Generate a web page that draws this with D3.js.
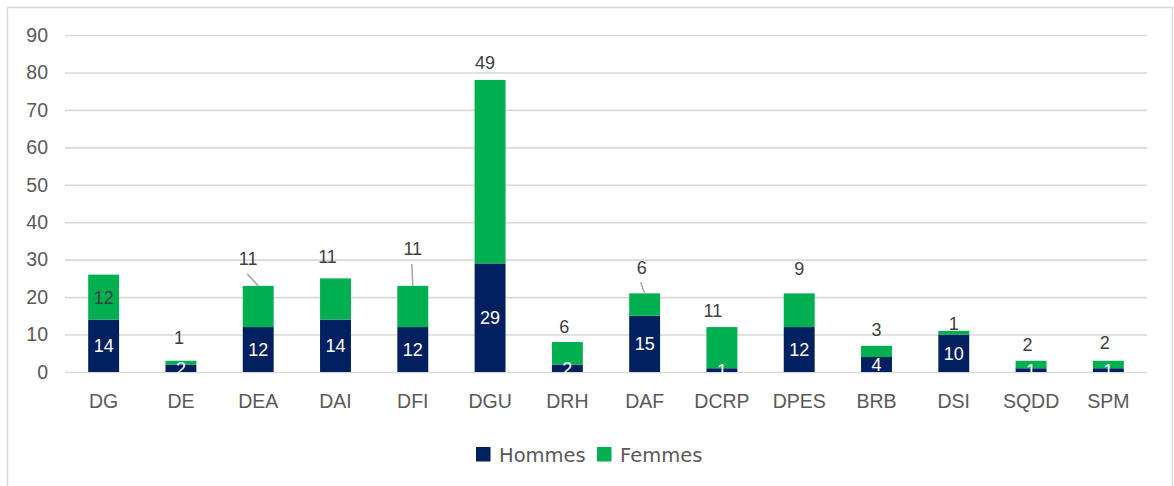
<!DOCTYPE html>
<html>
<head>
<meta charset="utf-8">
<script src="https://cdn.jsdelivr.net/npm/d3@7"></script>
<style>
  html, body { margin: 0; padding: 0; background: #fff; }
  svg { display: block; font-family: "Liberation Sans", Arial, sans-serif; }
</style>
</head>
<body>
<svg id="chart" width="1174" height="486"></svg>
<script>
const categories = ["DG","DE","DEA","DAI","DFI","DGU","DRH","DAF","DCRP","DPES","BRB","DSI","SQDD","SPM"];
const hommes = [14, 2, 12, 14, 12, 29, 2, 15, 1, 12, 4, 10, 1, 1];
const femmes = [12, 1, 11, 11, 11, 49, 6, 6, 11, 9, 3, 1, 2, 2];
const yTicks = [0, 10, 20, 30, 40, 50, 60, 70, 80, 90];
const seriesNames = ["Hommes", "Femmes"];

// layout-only config: where Excel had moved the "Femmes" labels (pixel nudges, null = inside bar)
const femLabelNudge = {
  DG: null,
  DE: [-2, -23], DEA: [-10, -27], DAI: [-8, -22], DFI: [0, -37], DGU: [-5, -17],
  DRH: [-3, -16], DAF: [-3, -26], DCRP: [-9, -17], DPES: [0, -25], BRB: [0, -16.5],
  DSI: [0, -7.5], SQDD: [-3.5, -16], SPM: [-3.5, -18.5]
};
const leaderFor = ["DEA", "DFI", "DAF"];

const colors = { Hommes: "#002060", Femmes: "#00B050" };
const svg = d3.select("#chart");

// outer border
svg.append("rect").attr("x", 7.5).attr("y", 7.5).attr("width", 1165).attr("height", 490)
  .attr("fill", "none").attr("stroke", "#d9d9d9").attr("stroke-width", 1.5);

const x0 = 65, x1 = 1147;
const x = d3.scaleBand().domain(categories).range([x0, x1]).paddingInner(0.6).paddingOuter(0.3);
const y = d3.scaleLinear().domain([0, 90]).range([372, 35]);

// gridlines + y tick labels
const yAxis = d3.axisLeft(y).tickValues(yTicks).tickSize(-(x1 - x0)).tickPadding(17);
const gy = svg.append("g").attr("transform", `translate(${x0},0)`).call(yAxis);
gy.select(".domain").remove();
gy.selectAll(".tick line").attr("stroke", "#d9d9d9").attr("stroke-width", 1.6);
gy.selectAll(".tick text").attr("fill", "#595959").style("font-size", "19.5px")
  .attr("font-family", "'Liberation Sans', Arial, sans-serif");

// x axis labels
const xAxis = d3.axisBottom(x).tickSize(0).tickPadding(0);
const gx = svg.append("g").attr("transform", "translate(0,372)").call(xAxis);
gx.select(".domain").remove();
gx.selectAll(".tick text").attr("fill", "#595959").style("font-size", "19.5px")
  .attr("font-family", "'Liberation Sans', Arial, sans-serif").attr("dy", null).attr("y", 35.5);

const data = categories.map((c, i) => ({ cat: c, h: hommes[i], f: femmes[i] }));
const stack = d3.stack().keys(["h", "f"])(data);

const bars = svg.append("g");
stack.forEach((layer, li) => {
  bars.selectAll(null).data(layer).enter().append("rect")
    .attr("x", d => x(d.data.cat))
    .attr("width", x.bandwidth())
    .attr("y", d => y(d[1]))
    .attr("height", d => y(d[0]) - y(d[1]))
    .attr("fill", colors[seriesNames[li]]);
});

// Hommes labels (white, centered)
svg.append("g").selectAll("text").data(data).enter().append("text")
  .attr("x", d => x(d.cat) + x.bandwidth() / 2)
  .attr("y", d => y(d.h / 2))
  .attr("dy", "0.36em")
  .attr("text-anchor", "middle")
  .attr("fill", "#ffffff")
  .style("font-size", "18px")
  .text(d => d.h);

// leader lines
const lg = svg.append("g");
data.filter(d => leaderFor.includes(d.cat)).forEach(d => {
  const n = femLabelNudge[d.cat];
  const cx = x(d.cat) + x.bandwidth() / 2;
  const top = y(d.h + d.f);
  lg.append("line")
    .attr("x1", cx + n[0] - 1).attr("y1", top + n[1] + 15)
    .attr("x2", cx).attr("y2", top)
    .attr("stroke", "#a6a6a6").attr("stroke-width", 1.5);
});

// Femmes labels
svg.append("g").selectAll("text").data(data).enter().append("text")
  .attr("x", d => {
    const n = femLabelNudge[d.cat];
    return x(d.cat) + x.bandwidth() / 2 + (n ? n[0] : 0);
  })
  .attr("y", d => {
    const n = femLabelNudge[d.cat];
    return n ? y(d.h + d.f) + n[1] : y(d.h + d.f / 2);
  })
  .attr("dy", "0.36em")
  .attr("text-anchor", "middle")
  .attr("fill", "#404040")
  .style("font-size", "18px")
  .text(d => d.f);

// legend
const legend = svg.append("g");
const legendItems = [
  { name: "Hommes", sx: 476, tx: 499 },
  { name: "Femmes", sx: 597, tx: 620 }
];
legendItems.forEach(it => {
  legend.append("rect").attr("x", it.sx).attr("y", 447).attr("width", 14.5).attr("height", 14.5)
    .attr("fill", colors[it.name]);
  legend.append("text").attr("x", it.tx).attr("y", 461.5).attr("fill", "#595959")
    .attr("font-family", "'DejaVu Sans', sans-serif")
    .style("font-size", "19.5px").text(it.name);
});
</script>
</body>
</html>
